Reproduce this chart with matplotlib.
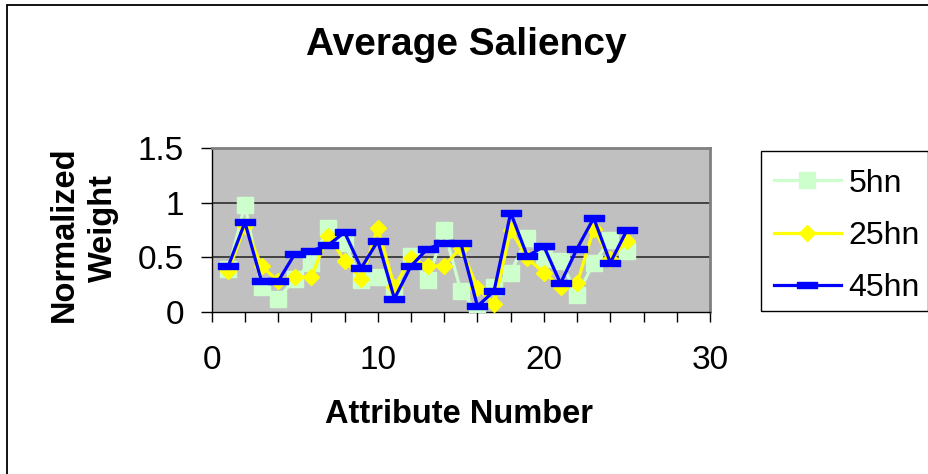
import numpy as np
import matplotlib
matplotlib.use('Agg')
import matplotlib.pyplot as plt
from matplotlib.patches import Rectangle

plt.rcParams['font.family'] = ['Liberation Sans', 'DejaVu Sans']

attributes = list(range(1, 26))
hn5 = [0.39, 0.98, 0.23, 0.12, 0.30, 0.45, 0.77, 0.63, 0.29, 0.32, 0.21, 0.51, 0.29,
       0.75, 0.19, 0.00, 0.23, 0.36, 0.68, 0.48, 0.47, 0.15, 0.45, 0.66, 0.56]
hn25 = [0.37, 0.79, 0.42, 0.28, 0.32, 0.32, 0.70, 0.47, 0.30, 0.77, 0.23, 0.49, 0.42,
        0.42, 0.59, 0.22, 0.07, 0.75, 0.49, 0.36, 0.23, 0.26, 0.76, 0.48, 0.65]
hn45 = [0.42, 0.82, 0.28, 0.28, 0.53, 0.56, 0.61, 0.73, 0.40, 0.65, 0.12, 0.42, 0.58,
        0.63, 0.63, 0.05, 0.19, 0.91, 0.51, 0.60, 0.26, 0.58, 0.86, 0.45, 0.75]
labels = ['5hn', '25hn', '45hn']

W, H = 929, 474
fig = plt.figure(figsize=(W / 100, H / 100), dpi=100)

# chart border (only left/top visible in the original)
fig.patches.append(Rectangle((7 / W, -0.1), 1.2, 1 - 5 / H + 0.1, transform=fig.transFigure,
                             fill=False, ec='black', lw=1.3))

ax = fig.add_axes([211.7 / W, 1 - 311.7 / H, (710 - 211.7) / W, (311.7 - 148.5) / H])
ax.set_facecolor('#C0C0C0')

bar = [(-1.4, -0.5), (1.4, -0.5), (1.4, 0.5), (-1.4, 0.5), (-1.4, -0.5)]
l1, = ax.plot(attributes, hn5, color='#CCFFCC', lw=2.3, marker='s', ms=12,
              mec='#CCFFCC', mfc='#CCFFCC', zorder=3)
l2, = ax.plot(attributes, hn25, color='#FFFF00', lw=2.3, marker='D', ms=8.2,
              mec='#FFFF00', mfc='#FFFF00', zorder=4)
l3, = ax.plot(attributes, hn45, color='#0000FF', lw=2.3, marker=bar, ms=14,
              mec='#0000FF', mfc='#0000FF', zorder=5)

ax.set_xlim(0, 30)
ax.set_ylim(0, 1.5)
ax.set_xticks([0, 10, 20, 30])
ax.set_xticks(np.arange(0, 31, 2), minor=True)
ax.set_yticks([0, 0.5, 1, 1.5])
ax.set_yticklabels(['0', '0.5', '1', '1.5'])
ax.tick_params(axis='x', which='both', direction='out', length=7, width=1, labelsize=24, pad=17)
ax.tick_params(axis='y', direction='out', length=8, width=1, labelsize=24, pad=12)

for y in [0.5, 1.0]:
    ax.axhline(y, color='#202020', lw=1.1, zorder=1)
for s in ['top', 'right']:
    ax.spines[s].set_color('#808080')
    ax.spines[s].set_linewidth(2)
for s in ['left', 'bottom']:
    ax.spines[s].set_color('black')
    ax.spines[s].set_linewidth(1)

fig.text(466.7 / W, 1 - 55 / H, 'Average Saliency', ha='center', va='baseline',
         fontsize=28, fontweight='bold')
fig.text(459 / W, 1 - 423 / H, 'Attribute Number', ha='center', va='baseline',
         fontsize=23.5, fontweight='bold')
fig.text(72.5 / W, 1 - 234 / H, 'Normalized', ha='center', va='baseline', rotation=90,
         rotation_mode='anchor', fontsize=23.5, fontweight='bold')
fig.text(112 / W, 1 - 228 / H, 'Weight', ha='center', va='baseline', rotation=90,
         rotation_mode='anchor', fontsize=23.5, fontweight='bold')

# legend box drawn by hand so its size matches
fig.patches.append(Rectangle((761 / W, 1 - 311 / H), (928 - 761) / W, 160 / H,
                             transform=fig.transFigure, fc='white', ec='black', lw=1))
leg = fig.legend([l1, l2, l3], labels, loc='upper left',
                 bbox_to_anchor=(756 / W, 1 - 151 / H), bbox_transform=fig.transFigure,
                 borderaxespad=0, frameon=False,
                 fontsize=23, numpoints=1, handlelength=2.1, handletextpad=0.25,
                 labelspacing=0.7, borderpad=0.55)

fig.savefig('out.png', dpi=100)
